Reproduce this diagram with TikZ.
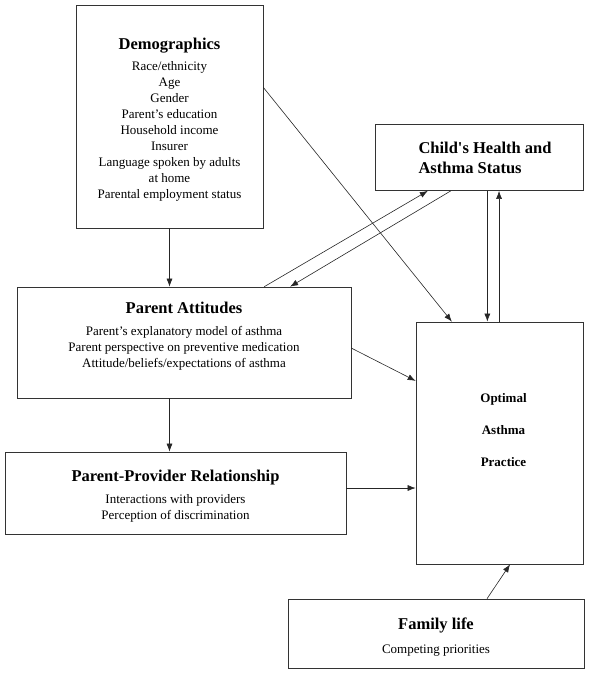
\documentclass[tikz,border=0pt]{standalone}
\usepackage{fontspec}
\setmainfont{Liberation Serif}
\usepackage{tikz}
\usetikzlibrary{arrows.meta,calc}
\newcommand{\ttl}{\fontsize{16.5}{20}\selectfont\bfseries}
\newcommand{\txt}{\fontsize{13}{16}\selectfont}

\begin{document}
\begin{tikzpicture}[
    x=1pt, y=-1pt,
    every node/.style={font=\txt},
    box/.style={draw=black!80, line width=0.7pt, rectangle,
                inner sep=0pt, align=center, fill=white},
    arrow/.style={-{Latex[length=8pt,width=6pt]}, line width=0.6pt, draw=black!85}
  ]
    \useasboundingbox (0,0) rectangle (603,675);

    % Boxes
    \node[box, minimum width=187, minimum height=223] (demo) at (169.5, 116.5)
      {{\ttl\rule{0pt}{18pt}Demographics}\\[5pt]
       Race/ethnicity\\
       Age\\
       Gender\\
       Parent’s education\\
       Household income\\
       Insurer\\
       Language spoken by adults\\
       at home\\
       Parental employment status};
    \node[box, minimum width=208, minimum height=66, align=left, font=\ttl] (child) at (479, 157.5)
      {\hspace*{12pt}Child\textquotesingle s Health and\\\hspace*{12pt}Asthma Status};
    \node[box, minimum width=334, minimum height=111] (att) at (184, 342.5)
      {{\ttl Parent Attitudes}\\[6pt]
       Parent’s explanatory model of asthma\\
       Parent perspective on preventive medication\\
       Attitude/beliefs/expectations of asthma\\};
    \node[box, minimum width=167, minimum height=242,
          font=\fontsize{13}{32}\selectfont\bfseries] (opt) at (499.5, 443)
      {\hspace*{8pt}Optimal\\\hspace*{8pt}Asthma\\\hspace*{8pt}Practice\\[-6pt]};
    \node[box, minimum width=341, minimum height=82] (prov) at (175.5, 493)
      {{\ttl\rule{0pt}{17pt}Parent-Provider Relationship}\\[6pt]
       Interactions with providers\\
       Perception of discrimination};
    \node[box, minimum width=296, minimum height=69] (fam) at (436, 633.5)
      {{\ttl\rule{0pt}{19pt}Family life}\\[8pt]
       Competing priorities};

    % Vertical spine
    \draw[arrow] (demo.south) -- (demo.south |- att.north);
    \draw[arrow] (demo.south |- att.south) -- (demo.south |- prov.north);

    % Demographics -> Optimal
    \coordinate (demo_r) at ($(demo.north east)!0.37!(demo.south east)$);
    \coordinate (opt_t1) at ($(opt.north west)!0.216!(opt.north east)$);
    \draw[arrow] (demo_r) -- (opt_t1);

    % Attitudes <-> Child's health
    \coordinate (att_t1) at ($(att.north west)!0.74!(att.north east)$);
    \coordinate (att_t2) at ($(att.north west)!0.817!(att.north east)$);
    \coordinate (child_b1) at ($(child.south west)!0.255!(child.south east)$);
    \coordinate (child_b2) at ($(child.south west)!0.365!(child.south east)$);
    \draw[arrow] (att_t1) -- (child_b1);
    \draw[arrow] (child_b2) -- (att_t2);

    % Child's health <-> Optimal
    \coordinate (child_b3) at ($(child.south west)!0.54!(child.south east)$);
    \coordinate (child_b4) at ($(child.south west)!0.596!(child.south east)$);
    \draw[arrow] (child_b3) -- (child_b3 |- opt.north);
    \draw[arrow] (child_b4 |- opt.north) -- (child_b4);

    % Into Optimal from the left
    \coordinate (att_r) at ($(att.north east)!0.55!(att.south east)$);
    \coordinate (opt_l) at ($(opt.north west)!0.244!(opt.south west)$);
    \draw[arrow] (att_r) -- (opt_l);
    \draw[arrow] ([yshift=5pt]prov.east) -- ([yshift=5pt]prov.east -| opt.west);

    % Family life -> Optimal
    \coordinate (fam_t) at ($(fam.north west)!0.672!(fam.north east)$);
    \coordinate (opt_b) at ($(opt.south west)!0.563!(opt.south east)$);
    \draw[arrow] (fam_t) -- (opt_b);
  \end{tikzpicture}
\end{document}
